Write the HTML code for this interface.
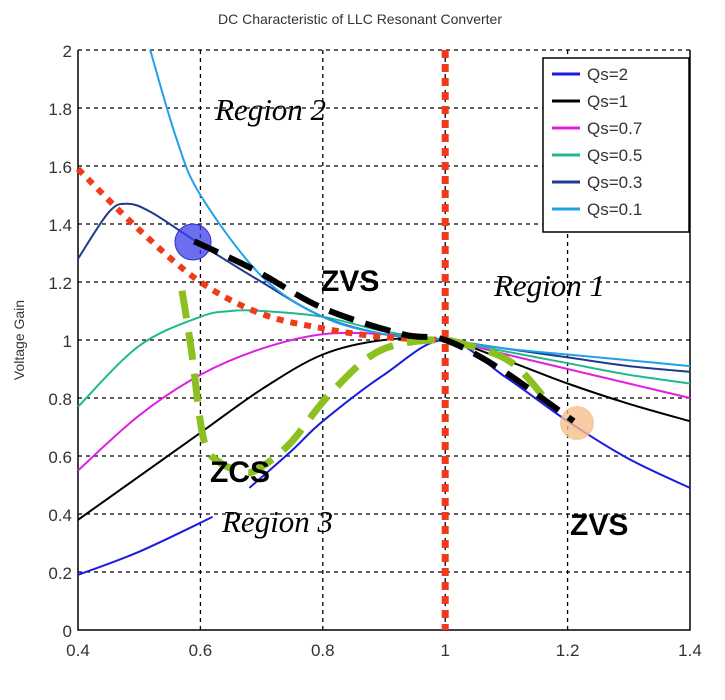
<!DOCTYPE html>
<html><head><meta charset="utf-8"><style>
body{margin:0;background:#fff;}
svg{display:block;}
.sans{font-family:"Liberation Sans",sans-serif;}
.serif{font-family:"Liberation Serif",serif;font-style:italic;}
</style></head><body>
<svg id="chart" width="725" height="700">
<rect x="0" y="0" width="725" height="700" fill="#fff"/>
<text class="sans" x="360" y="24" font-size="14" text-anchor="middle" fill="#333">DC Characteristic of LLC Resonant Converter</text>
<text class="sans" transform="translate(24,340) rotate(-90)" font-size="14" text-anchor="middle" fill="#333">Voltage Gain</text>
<g id="grid"></g><g id="series"></g><g id="overlay"></g>
</svg>
<script>
const xTicks=[0.4,0.6,0.8,1,1.2,1.4];
const xTickLabels=["0.4","0.6","0.8","1","1.2","1.4"];
const yTicks=[0,0.2,0.4,0.6,0.8,1,1.2,1.4,1.6,1.8,2];
const yTickLabels=["0","0.2","0.4","0.6","0.8","1","1.2","1.4","1.6","1.8","2"];
const seriesNames=["Qs=2","Qs=1","Qs=0.7","Qs=0.5","Qs=0.3","Qs=0.1"];
const seriesColors=["#1a1ae0","#000000","#e020e0","#20b890","#203a90","#20a0e8"];
const qs2X=[0.4,0.5,0.62,null,0.68,0.75,0.8,0.9,1,1.1,1.2,1.3,1.4];
const qs2Y=[0.19,0.27,0.39,null,0.49,0.62,0.72,0.88,1,0.87,0.72,0.59,0.49];
const qs1X=[0.4,0.5,0.6,0.7,0.8,0.9,1,1.1,1.2,1.3,1.4];
const qs1Y=[0.38,0.53,0.68,0.83,0.95,1.0,1,0.93,0.85,0.78,0.72];
const qs07X=[0.4,0.5,0.6,0.7,0.8,0.9,1,1.1,1.2,1.3,1.4];
const qs07Y=[0.55,0.74,0.88,0.97,1.02,1.02,1,0.95,0.9,0.85,0.8];
const qs05X=[0.4,0.5,0.6,0.65,0.7,0.8,0.9,1,1.1,1.2,1.3,1.4];
const qs05Y=[0.77,0.98,1.08,1.1,1.1,1.08,1.03,1,0.96,0.92,0.88,0.85];
const qs03X=[0.4,0.45,0.48,0.52,0.6,0.7,0.8,0.9,1,1.1,1.2,1.3,1.4];
const qs03Y=[1.28,1.44,1.47,1.44,1.33,1.2,1.08,1.02,1,0.97,0.94,0.91,0.89];
const qs01X=[0.518,0.56,0.6,0.7,0.8,0.9,1,1.1,1.2,1.3,1.4];
const qs01Y=[2.0,1.7,1.5,1.22,1.08,1.02,1,0.97,0.95,0.93,0.91];
const boundaryX=[0.4,0.5,0.6,0.7,0.8,0.9,1.0];
const boundaryY=[1.59,1.38,1.2,1.09,1.04,1.01,1.0];
const zcsX=[0.57,0.585,0.605,0.63,0.665,0.69,0.745,0.81,0.89,0.98,1.04,1.11,1.17];
const zcsY=[1.17,0.97,0.66,0.58,0.55,0.55,0.64,0.81,0.96,1.0,0.98,0.92,0.78];
const zvsX=[0.59,0.69,0.8,0.93,1.0,1.09,1.21];
const zvsY=[1.34,1.24,1.11,1.02,1.0,0.9,0.72];
const ns="http://www.w3.org/2000/svg";
const L=78,R=690,T=50,B=630;
function sx(v){return L+(v-0.4)/1.0*(R-L);}
function sy(v){return B-(v/2)*(B-T);}
function mk(tag,attrs,parent){const e=document.createElementNS(ns,tag);for(const k in attrs)e.setAttribute(k,attrs[k]);parent.appendChild(e);return e;}
const grid=document.getElementById('grid'),ser=document.getElementById('series'),ov=document.getElementById('overlay');
xTicks.forEach((t,i)=>{
 if(i>0&&i<xTicks.length-1){const g=mk('line',{x1:sx(t),x2:sx(t),y1:T,y2:B,stroke:'#000','stroke-width':1.3,'stroke-dasharray':'4,4'},grid);
 
 }
 const tx=mk('text',{x:sx(t),y:B+26,'font-size':17,'text-anchor':'middle',fill:'#333',class:'sans'},grid);tx.textContent=xTickLabels[i];
 
 
});
yTicks.forEach((t,i)=>{
 if(i>0){const g=mk('line',{x1:L,x2:R,y1:sy(t),y2:sy(t),stroke:'#000','stroke-width':1.3,'stroke-dasharray':'4,4'},grid);
 
 }
 const tx=mk('text',{x:L-6,y:sy(t)+7,'font-size':17,'text-anchor':'end',fill:'#333',class:'sans'},grid);tx.textContent=yTickLabels[i];
 
 
});
const ax=mk('path',{d:`M${L},${T} L${L},${B} L${R},${B} L${R},${T}`,fill:'none',stroke:'#000','stroke-width':1.5},grid);


function smoothSeg(pts){
 if(pts.length<2)return '';
 let d='M'+pts[0][0].toFixed(1)+','+pts[0][1].toFixed(1);
 for(let i=0;i<pts.length-1;i++){
  const p0=pts[i-1]||pts[i],p1=pts[i],p2=pts[i+1],p3=pts[i+2]||p2;
  const c1x=p1[0]+(p2[0]-p0[0])/6,c1y=p1[1]+(p2[1]-p0[1])/6;
  const c2x=p2[0]-(p3[0]-p1[0])/6,c2y=p2[1]-(p3[1]-p1[1])/6;
  d+=` C${c1x.toFixed(1)},${c1y.toFixed(1)} ${c2x.toFixed(1)},${c2y.toFixed(1)} ${p2[0].toFixed(1)},${p2[1].toFixed(1)}`;
 }
 return d+' ';
}
function pathOf(xs,ys){let d='',seg=[];xs.forEach((x,i)=>{if(x===null){d+=smoothSeg(seg);seg=[];return;}seg.push([sx(x),sy(ys[i])]);});return d+smoothSeg(seg);}
const allX=[qs2X,qs1X,qs07X,qs05X,qs03X,qs01X],allY=[qs2Y,qs1Y,qs07Y,qs05Y,qs03Y,qs01Y];
allX.forEach((xs,i)=>{const p=mk('path',{d:pathOf(xs,allY[i]),fill:'none',stroke:seriesColors[i],'stroke-width':2,'stroke-linejoin':'round'},ser);
 
 });
const vline=mk('line',{x1:sx(1),x2:sx(1),y1:T,y2:B,stroke:'#f03a1a','stroke-width':7,'stroke-dasharray':'8,6'},ov);


const bd=mk('path',{d:pathOf(boundaryX,boundaryY),fill:'none',stroke:'#f03a1a','stroke-width':6,'stroke-dasharray':'7,7'},ov);


const zc=mk('path',{d:pathOf(zcsX,zcsY),fill:'none',stroke:'#8cc020','stroke-width':7,'stroke-dasharray':'28,14','stroke-linejoin':'round'},ov);


const c1=mk('circle',{cx:193,cy:242,r:18,fill:'rgba(60,60,235,0.75)',stroke:'#3030d0'},ov);


const c2=mk('circle',{cx:577,cy:423,r:17,fill:'rgba(245,190,140,0.8)'},ov);


const zv=mk('path',{d:pathOf(zvsX,zvsY),fill:'none',stroke:'#000','stroke-width':6,'stroke-dasharray':'26,12'},ov);


</script>
<svg width="725" height="700" style="position:absolute;left:0;top:0">
<g class="serif" font-size="31" fill="#000">
<text class="serif" x="215" y="120">Region 2</text>
<text class="serif" x="494" y="296">Region 1</text>
<text class="serif" x="222" y="532">Region 3</text>
</g>
<g class="sans" font-weight="bold" font-size="30" fill="#000">
<text class="sans" x="321" y="291">ZVS</text>
<text class="sans" x="210" y="482">ZCS</text>
<text class="sans" x="570" y="535">ZVS</text>
</g>
<g>
<rect x="543" y="58" width="146" height="174" fill="#fff" stroke="#000" stroke-width="1.5"/>
<g class="sans" font-size="17" fill="#333">
<line x1="552" x2="580" y1="74" y2="74" stroke="#1a1ae0" stroke-width="3"/><text class="sans" x="587" y="80">Qs=2</text>
<line x1="552" x2="580" y1="101" y2="101" stroke="#000" stroke-width="3"/><text class="sans" x="587" y="107">Qs=1</text>
<line x1="552" x2="580" y1="128" y2="128" stroke="#e020e0" stroke-width="3"/><text class="sans" x="587" y="134">Qs=0.7</text>
<line x1="552" x2="580" y1="155" y2="155" stroke="#20b890" stroke-width="3"/><text class="sans" x="587" y="161">Qs=0.5</text>
<line x1="552" x2="580" y1="182" y2="182" stroke="#203a90" stroke-width="3"/><text class="sans" x="587" y="188">Qs=0.3</text>
<line x1="552" x2="580" y1="209" y2="209" stroke="#20a0e8" stroke-width="3"/><text class="sans" x="587" y="215">Qs=0.1</text>
</g></g>
</svg>
</body></html>
